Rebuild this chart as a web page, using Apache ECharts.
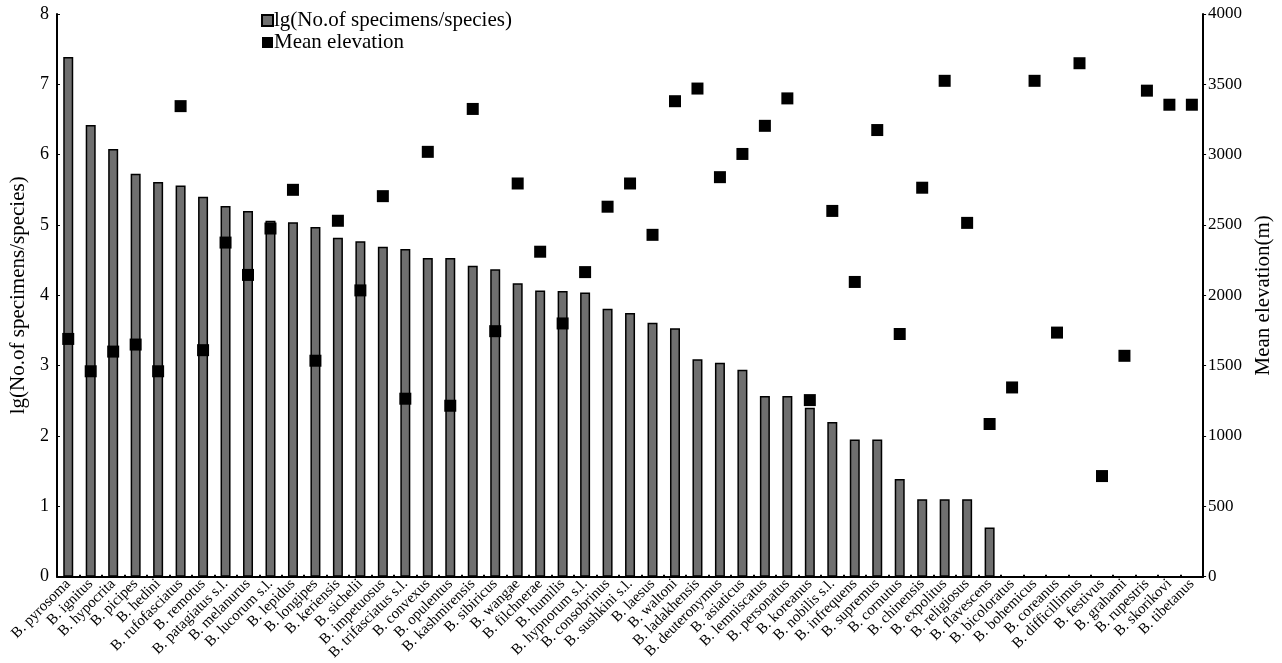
<!DOCTYPE html>
<html>
<head>
<meta charset="utf-8">
<script src="https://cdn.jsdelivr.net/npm/echarts@6/dist/echarts.min.js"></script>
<style>
  html, body { margin: 0; padding: 0; background: #fff; }
  #chart { width: 1282px; height: 663px; }
</style>
</head>
<body>
<div id="chart"></div>
<script>
const species = [
  'B. pyrosoma', 'B. ignitus', 'B. hypocrita', 'B. picipes', 'B. hedini',
  'B. rufofasciatus', 'B. remotus', 'B. patagiatus s.l.', 'B. melanurus', 'B. lucorum s.l.',
  'B. lepidus', 'B. longipes', 'B. keriensis', 'B. sichelii', 'B. impetuosus',
  'B. trifasciatus s.l.', 'B. convexus', 'B. opulentus', 'B. kashmirensis', 'B. sibiricus',
  'B. wangae', 'B. filchnerae', 'B. humilis', 'B. hypnorum s.l.', 'B. consobrinus',
  'B. sushkini s.l.', 'B. laesus', 'B. waltoni', 'B. ladakhensis', 'B. deuteronymus',
  'B. asiaticus', 'B. lemniscatus', 'B. personatus', 'B. koreanus', 'B. nobilis s.l.',
  'B. infrequens', 'B. supremus', 'B. cornutus', 'B. chinensis', 'B. expolitus',
  'B. religiosus', 'B. flavescens', 'B. bicoloratus', 'B. bohemicus', 'B. coreanus',
  'B. difficillimus', 'B. festivus', 'B. grahami', 'B. rupestris', 'B. skorikovi',
  'B. tibetanus'
];

// lg(No.of specimens/species)
const specimens = [
  7.39, 6.42, 6.08, 5.73, 5.61, 5.56, 5.40, 5.27, 5.20, 5.06,
  5.04, 4.97, 4.82, 4.77, 4.69, 4.66, 4.53, 4.53, 4.42, 4.37,
  4.17, 4.07, 4.06, 4.04, 3.81, 3.75, 3.61, 3.53, 3.09, 3.04,
  2.94, 2.57, 2.57, 2.40, 2.20, 1.95, 1.95, 1.39, 1.10, 1.10,
  1.10, 0.70, null, null, null, null, null, null, null, null,
  null
];

// Mean elevation (m)
const elevation = [
  1690, 1460, 1600, 1650, 1460, 3345, 1610, 2375, 2145, 2475,
  2750, 1535, 2530, 2035, 2705, 1265, 3020, 1215, 3325, 1745,
  2795, 2310, 1800, 2165, 2630, 2795, 2430, 3380, 3470, 2840,
  3005, 3205, 3400, 1255, 2600, 2095, 3175, 1725, 2765, 3525,
  2515, 1085, 1345, 3525, 1735, 3650, 715, 1570, 3455, 3355,
  3355
];

const leftTicks = { min: 0, max: 8, interval: 1 };
const rightTicks = { min: 0, max: 4000, interval: 500 };

const font = 'Liberation Serif';
const chart = echarts.init(document.getElementById('chart'));
chart.setOption({
  backgroundColor: '#fff',
  animation: false,
  textStyle: { fontFamily: font, color: '#000' },
  grid: { left: 54, right: 77, top: 14, bottom: 86 },
  legend: {
    orient: 'vertical',
    left: 256,
    top: 5,
    itemGap: 1,
    itemWidth: 11,
    itemHeight: 11,
    textStyle: { fontFamily: font, fontSize: 21, color: '#000', padding: [0, 0, 0, -4] },
    data: [
      { name: 'lg(No.of specimens/species)', icon: 'rect' },
      { name: 'Mean elevation', icon: 'rect' }
    ]
  },
  xAxis: {
    type: 'category',
    data: species,
    axisLine: { lineStyle: { color: '#000', width: 2 } },
    axisTick: { show: true, inside: true, length: 2, lineStyle: { color: '#000', width: 2 } },
    axisLabel: { interval: 0, rotate: 45, fontFamily: font, fontSize: 15, color: '#000', margin: 5 }
  },
  yAxis: [
    {
      type: 'value',
      min: leftTicks.min, max: leftTicks.max, interval: leftTicks.interval,
      name: 'lg(No.of specimens/species)',
      nameLocation: 'middle',
      nameGap: 28,
      nameTextStyle: { fontFamily: font, fontSize: 21, color: '#000' },
      axisLine: { show: true, lineStyle: { color: '#000', width: 2 } },
      axisTick: { show: true, inside: true, length: 3, lineStyle: { color: '#000' } },
      axisLabel: { fontFamily: font, fontSize: 18, color: '#000', margin: 8 },
      splitLine: { show: false }
    },
    {
      type: 'value',
      position: 'right',
      min: rightTicks.min, max: rightTicks.max, interval: rightTicks.interval,
      name: 'Mean elevation(m)',
      nameLocation: 'middle',
      nameGap: 40,
      nameTextStyle: { fontFamily: font, fontSize: 21, color: '#000' },
      axisLine: { show: true, lineStyle: { color: '#000', width: 2 } },
      axisTick: { show: true, length: 3, lineStyle: { color: '#000' } },
      axisLabel: { fontFamily: font, fontSize: 17, color: '#000', margin: 5, formatter: (v) => String(v) },
      splitLine: { show: false }
    }
  ],
  series: [
    {
      name: 'lg(No.of specimens/species)',
      type: 'bar',
      yAxisIndex: 0,
      barWidth: 10,
      itemStyle: { color: '#6f6f6f', borderColor: '#000', borderWidth: 1.5 },
      data: specimens,
      z: 2
    },
    {
      name: 'Mean elevation',
      type: 'scatter',
      yAxisIndex: 1,
      symbol: 'rect',
      symbolSize: 12,
      itemStyle: { color: '#000', opacity: 1 },
      data: elevation,
      z: 3
    }
  ]
});
window.onresize = function () {
  chart.resize();
};
</script>
</body>
</html>
